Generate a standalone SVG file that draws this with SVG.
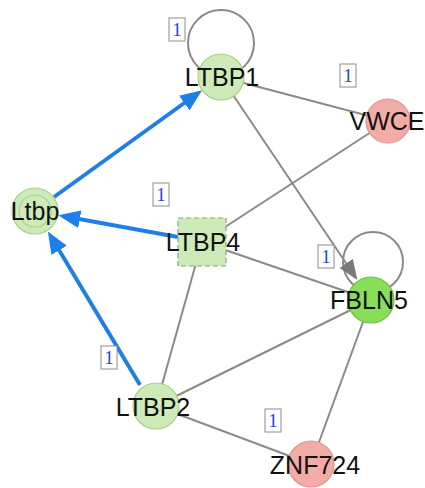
<svg xmlns="http://www.w3.org/2000/svg" width="425" height="488" viewBox="0 0 425 488">
<style>
.e{stroke:#8a8a8a;stroke-width:2;fill:none}
.b{stroke:#1f7fe6;stroke-width:4;fill:none}
.lg{fill:#cdeab8;stroke:#a9d08e;stroke-width:1.2}
.pk{fill:#f3aba6;stroke:#d99792;stroke-width:1.2}
.t{font-family:"Liberation Sans",Arial,sans-serif;font-size:25px;fill:#111;text-anchor:middle}
.lb rect{fill:#fff;stroke:#8c8c8c;stroke-width:1}
.lb text{font-family:"Liberation Serif","Times New Roman",serif;font-size:19px;fill:#2448d8;text-anchor:middle}
</style>
<defs>
<marker id="ab" viewBox="0 0 22 18" markerWidth="22" markerHeight="18" refX="12" refY="9" orient="auto" markerUnits="userSpaceOnUse"><path d="M0,0 L22,9 L0,18 z" fill="#1f7fe6"/></marker>
<marker id="ag" viewBox="0 0 20 16" markerWidth="20" markerHeight="16" refX="14" refY="8" orient="auto" markerUnits="userSpaceOnUse"><path d="M0,0 L20,8 L0,16 z" fill="#7a7a7a"/></marker>
</defs>
<g id="connectors">
<circle class="e" cx="221" cy="43" r="33"/>
<circle class="e" cx="373" cy="262" r="30"/>
<line class="e" x1="221" y1="77" x2="388" y2="121"/>
<line class="e" x1="388" y1="121" x2="202" y2="242"/>
<line class="e" x1="202" y1="242" x2="371" y2="300"/>
<line class="e" x1="202" y1="242" x2="156" y2="406"/>
<line class="e" x1="156" y1="406" x2="371" y2="300"/>
<line class="e" x1="156" y1="406" x2="311" y2="464"/>
<line class="e" x1="371" y1="300" x2="311" y2="464"/>
<line class="e" x1="221" y1="77" x2="354" y2="275" marker-end="url(#ag)"/>
<line class="b" x1="54" y1="197" x2="194" y2="96" marker-end="url(#ab)"/>
<line class="b" x1="178" y1="237" x2="68" y2="217" marker-end="url(#ab)"/>
<line class="b" x1="140" y1="385" x2="53" y2="240" marker-end="url(#ab)"/>
</g>
<g id="LTBP1"><circle class="lg" cx="221" cy="77" r="23"/><text class="t" x="222" y="86">LTBP1</text></g>
<g id="VWCE"><circle class="pk" cx="388" cy="121" r="22"/><text class="t" x="387" y="130">VWCE</text></g>
<g id="Ltbp"><circle class="lg" cx="35" cy="211" r="23"/><circle cx="35" cy="211" r="16" fill="none" stroke="#a9d08e" stroke-width="1.2"/><text class="t" x="35" y="220">Ltbp</text></g>
<g id="LTBP4"><rect x="178" y="218" width="48" height="48" fill="#cdeab8" stroke="#8aa878" stroke-width="1.2" stroke-dasharray="5,3"/><text class="t" x="203" y="251">LTBP4</text></g>
<g id="FBLN5"><circle cx="371" cy="300" r="23" fill="#88de58" stroke="#6dbf45" stroke-width="1.2"/><text class="t" x="369" y="309">FBLN5</text></g>
<g id="LTBP2"><circle class="lg" cx="156" cy="406" r="23"/><text class="t" x="153" y="416">LTBP2</text></g>
<g id="ZNF724"><circle class="pk" cx="311" cy="464" r="23"/><text class="t" x="315" y="474">ZNF724</text></g>
<g id="labels">
<g class="lb"><rect x="169" y="18" width="16" height="23"/><text x="177" y="36">1</text></g>
<g class="lb"><rect x="340" y="64" width="16" height="23"/><text x="348" y="82">1</text></g>
<g class="lb"><rect x="153" y="183" width="16" height="23"/><text x="161" y="201">1</text></g>
<g class="lb"><rect x="318" y="245" width="16" height="23"/><text x="326" y="263">1</text></g>
<g class="lb"><rect x="101" y="346" width="16" height="23"/><text x="109" y="364">1</text></g>
<g class="lb"><rect x="265" y="409" width="16" height="23"/><text x="273" y="427">1</text></g>
</g>
</svg>
